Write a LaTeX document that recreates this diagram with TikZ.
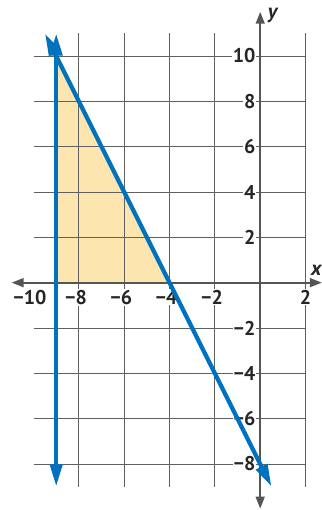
\documentclass[tikz,border=0pt]{standalone}
\usepackage{fontspec}
\setmainfont{PT Sans}
\usetikzlibrary{arrows.meta}
\definecolor{gridc}{HTML}{606060}
\definecolor{axisc}{HTML}{555555}
\definecolor{bluec}{HTML}{0071BC}
\definecolor{fillc}{HTML}{FDE5B0}
\tikzset{
  gridline/.style={draw=gridc, line width=0.6pt},
  axisline/.style={draw=axisc, line width=1.3pt, -{Triangle[length=7.5pt,width=5.5pt]}},
  graphline/.style={draw=bluec, line width=2.7pt, {Triangle[length=14pt,width=7.5pt]}-{Triangle[length=14pt,width=7.5pt]}},
  lbl/.style={font=\fontsize{12.5}{14}\selectfont\bfseries, fill=white, inner sep=0.6pt, text=black!85},
}
\begin{document}
\begin{tikzpicture}[x=0.5cm,y=0.5cm]
\useasboundingbox (-11.48,-10.03) rectangle (2.72,12.47);
% shaded region
\fill[fillc] (-9,10) -- (-9,0) -- (-4,0) -- cycle;
% grid
\draw[gridline] (-10,-9) grid (2,11);
% axes
\coordinate (xl) at (-10.97,0);
\coordinate (xr) at (2.72,0);
\coordinate (yb) at (0,-9.97);
\coordinate (yt) at (0,11.95);
\coordinate (o) at (0,0);
\draw[axisline] (o) -- (yt);
\draw[axisline] (o) -- (xl);
\draw[axisline] (o) -- (xr);
\draw[axisline] (o) -- (yb);
\node[font=\fontsize{13}{14}\selectfont\bfseries\itshape, text=black!85, inner sep=0pt] (ylab) at (0.55,11.78) {y};
\node[font=\fontsize{13}{14}\selectfont\bfseries\itshape, text=black!85, inner sep=0pt, anchor=east] (xlab) at (2.71,0.55) {x};
% x labels
\node[lbl] (xm10) at (-10.16,-0.65) {−10};
\node[lbl] (xm8) at (-8.13,-0.65) {−8};
\node[lbl] (xm6) at (-6.13,-0.65) {−6};
\node[lbl] (xm4) at (-4.13,-0.65) {−4};
\node[lbl] (xm2) at (-2.13,-0.65) {−2};
\node[lbl] (xp2) at (2.0,-0.65) {2};
% y labels
\foreach \v/\n in {10/y10,8/y8,6/y6,4/y4,2/y2}{
  \node[lbl, anchor=east] (\n) at (-0.15,\v) {\v};
}
\foreach \v/\n in {-2/ym2,-4/ym4,-6/ym6,-8/ym8}{
  \node[lbl, anchor=east] (\n) at (-0.15,\v) {−\the\numexpr-\v\relax};
}
% graph lines
\coordinate (vt) at (-9,11);
\coordinate (vb) at (-9,-9);
\coordinate (st) at (-9.5,11);
\coordinate (sb) at (0.5,-9);
\draw[graphline] (vb) -- (vt);
\draw[graphline] (st) -- (sb);
\end{tikzpicture}
\end{document}
